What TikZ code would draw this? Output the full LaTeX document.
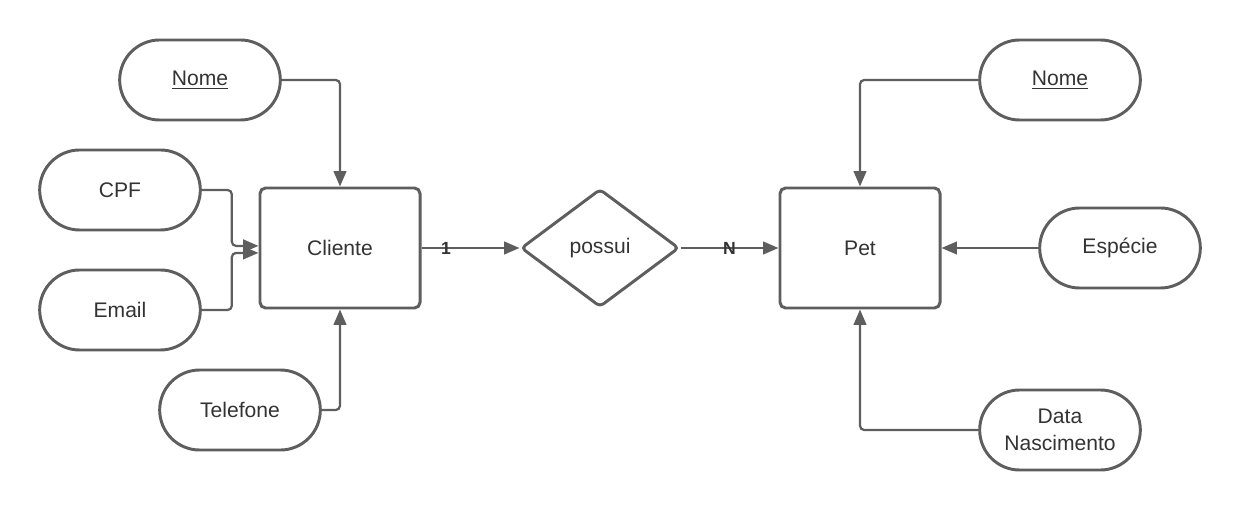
\documentclass[tikz,border=0pt]{standalone}
\usepackage{fontspec}
\setmainfont{Liberation Sans}
\usepackage{xcolor}
\usetikzlibrary{shapes}
\usetikzlibrary{positioning}
\usetikzlibrary{arrows.meta}

\definecolor{LineGray}{HTML}{5E5E5E}
\definecolor{TextGray}{HTML}{333333}

\tikzset{
  entity/.style={draw=LineGray, line width=2.1pt, rounded corners=4pt, minimum width=4cm, minimum height=3cm, text=TextGray, font=\fontsize{15}{19}\selectfont},
  attrib/.style={draw=LineGray, rounded rectangle, line width=2.1pt, minimum width=4.25cm, minimum height=2cm, align=center, text=TextGray, font=\fontsize{15}{19}\selectfont},
  relation/.style={draw=LineGray, diamond, line width=2.1pt, rounded corners=3pt, minimum width=3.95cm, minimum height=2.95cm, text=TextGray, font=\fontsize{15}{19}\selectfont},
  link/.style={draw=LineGray, line width=1.6pt, rounded corners=3pt, -{Triangle[length=11pt,width=9pt]}},
  card/.style={text=TextGray, font=\bfseries\fontsize{12.5}{14}\selectfont}
}

\begin{document}
\begin{tikzpicture}[x=0.025cm, y=-0.025cm]

    \useasboundingbox (0,0) rectangle (1240,510);

    % entities and relation
    \node [entity]   (cliente) at (340,248) {Cliente};
    \node [relation] (possui)  at (600,248) {possui};
    \node [entity]   (pet)     at (860,248) {Pet};

    % attributes of Cliente
    \node [attrib] (nomeC)    at (200,80)  {\underline{Nome}};
    \node [attrib] (cpf)      at (120,190) {CPF};
    \node [attrib] (email)    at (120,310) {Email};
    \node [attrib] (telefone) at (240,410) {Telefone};

    % attributes of Pet
    \node [attrib] (nomeP)   at (1060,80)  {\underline{Nome}};
    \node [attrib] (especie) at (1120,248) {Espécie};
    \node [attrib] (data)    at (1060,430) {Data\\Nascimento};

    \draw [link] (nomeC.east) -| (cliente.north);
    \draw [link] (cpf.east) -- ++(30,0) |- ([yshift=1.5pt]cliente.west);
    \draw [link] (email.east) -- ++(30,0) |- ([yshift=-3.5pt]cliente.west);
    \draw [link] (telefone.east) -| (cliente.south);

    \draw [link] (cliente.east) -- node [card, pos=0.25] {1} (possui.west);
    \draw [link] (possui.east) -- node [card, pos=0.5] {N} (pet.west);

    \draw [link] (nomeP.west) -| (pet.north);
    \draw [link] (especie.west) -- (pet.east);
    \draw [link] (data.west) -| (pet.south);

\end{tikzpicture}
\end{document}
